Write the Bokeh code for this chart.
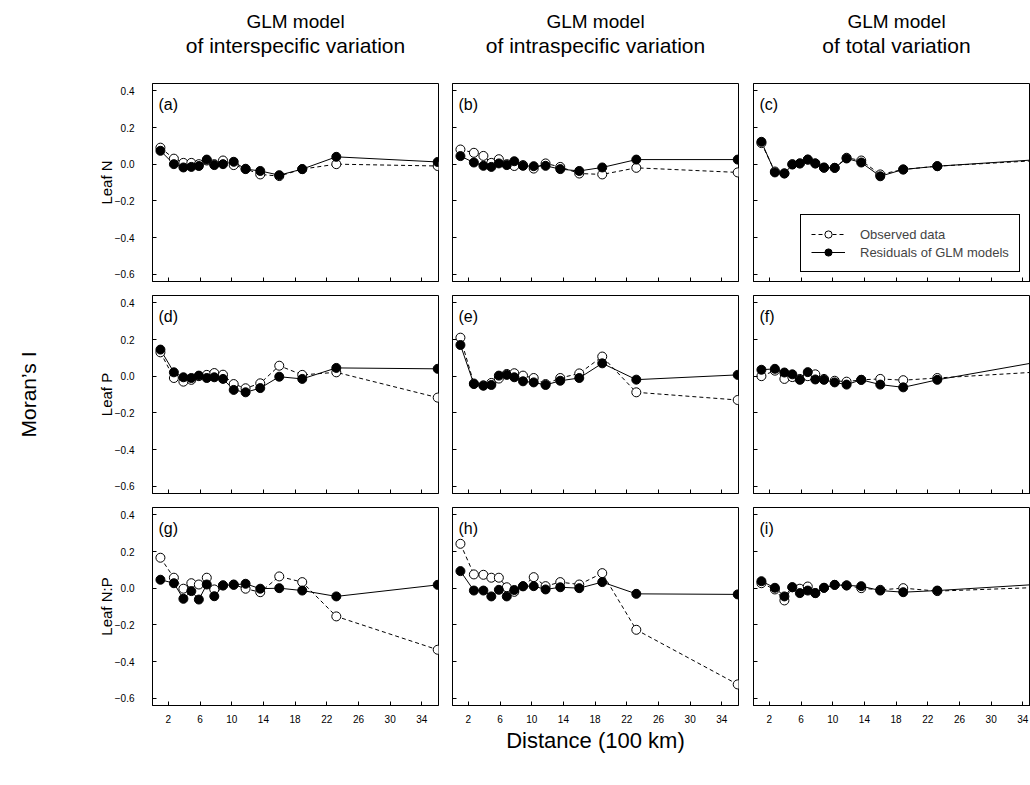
import math
from bokeh.plotting import figure
from bokeh.layouts import row, column
from bokeh.models import Range1d, FixedTicker, Label, Legend, LegendItem, LinearAxis
from bokeh.core.properties import value
from bokeh.embed import file_html
from bokeh.resources import INLINE

# ---------------- data ----------------
distance_100km = [1.0, 2.7, 3.9, 4.9, 5.85, 6.85, 7.8, 8.9, 10.25, 11.75, 13.6, 16.0, 18.9, 23.2, 36.0]

# Leaf N
a_observed = [0.09, 0.03, 0.007, 0.007, 0.0, 0.02, 0.0, 0.02, -0.005, -0.025, -0.056, -0.065, -0.027, 0.0, -0.01]
a_residual = [0.073, 0.0, -0.018, -0.015, -0.01, 0.025, -0.005, 0.0, 0.013, -0.027, -0.037, -0.06, -0.027, 0.04, 0.012]
b_observed = [0.08, 0.062, 0.045, 0.007, 0.027, 0.0, -0.01, -0.005, -0.024, 0.004, -0.015, -0.051, -0.056, -0.02, -0.045]
b_residual = [0.044, 0.009, -0.009, -0.015, 0.004, -0.005, 0.016, -0.009, -0.011, -0.009, -0.027, -0.037, -0.018, 0.025, 0.025]
c_observed = [0.115, -0.04, -0.05, 0.0, 0.004, 0.025, 0.004, -0.02, -0.02, 0.035, 0.02, -0.056, -0.029, -0.011, 0.02]
c_residual = [0.122, -0.045, -0.051, -0.002, 0.004, 0.025, 0.004, -0.018, -0.02, 0.031, 0.009, -0.066, -0.029, -0.011, 0.025]
# Leaf P
d_observed = [0.13, -0.01, -0.03, -0.02, 0.0, 0.007, 0.017, 0.008, -0.043, -0.066, -0.039, 0.057, 0.007, 0.021, -0.117]
d_residual = [0.145, 0.021, -0.006, -0.01, 0.003, -0.01, -0.006, -0.015, -0.075, -0.088, -0.065, -0.003, -0.015, 0.045, 0.04]
e_observed = [0.21, -0.04, -0.05, -0.037, -0.013, 0.012, 0.016, 0.003, -0.01, -0.043, -0.01, 0.015, 0.107, -0.088, -0.13]
e_residual = [0.17, -0.043, -0.052, -0.048, 0.003, 0.007, -0.006, -0.028, -0.034, -0.048, -0.025, -0.01, 0.07, -0.019, 0.007]
f_observed = [0.0, 0.03, -0.015, -0.005, -0.015, 0.0, 0.01, -0.015, -0.025, -0.03, -0.02, -0.015, -0.022, -0.01, 0.023]
f_residual = [0.035, 0.04, 0.02, 0.01, -0.02, 0.022, -0.018, -0.02, -0.034, -0.046, -0.02, -0.046, -0.061, -0.02, 0.078]
# Leaf N:P
g_observed = [0.166, 0.057, -0.003, 0.027, 0.02, 0.057, -0.007, 0.015, 0.02, -0.003, -0.022, 0.064, 0.033, -0.154, -0.336]
g_residual = [0.046, 0.027, -0.058, -0.016, -0.062, 0.02, -0.044, 0.015, 0.018, 0.024, -0.003, 0.0, -0.013, -0.045, 0.018]
h_observed = [0.242, 0.075, 0.073, 0.057, 0.057, 0.005, -0.02, 0.01, 0.06, 0.011, 0.033, 0.02, 0.082, -0.227, -0.525]
h_residual = [0.093, -0.013, -0.013, -0.045, -0.009, -0.045, -0.01, 0.011, 0.011, -0.007, 0.005, 0.0, 0.033, -0.031, -0.034]
i_observed = [0.027, -0.007, -0.067, 0.005, -0.003, 0.009, -0.027, 0.002, 0.018, 0.015, 0.0, -0.009, 0.0, -0.016, 0.004]
i_residual = [0.038, 0.002, -0.045, 0.005, -0.027, -0.013, -0.027, 0.002, 0.018, 0.015, 0.011, -0.013, -0.022, -0.013, 0.021]

column_title_line1 = ["GLM model", "GLM model", "GLM model"]
column_title_line2 = ["of interspecific variation", "of intraspecific variation", "of total variation"]
row_labels = ["Leaf N", "Leaf P", "Leaf N:P"]
panel_letters = [["(a)", "(b)", "(c)"], ["(d)", "(e)", "(f)"], ["(g)", "(h)", "(i)"]]
observed_series = [[a_observed, b_observed, c_observed],
                   [d_observed, e_observed, f_observed],
                   [g_observed, h_observed, i_observed]]
residual_series = [[a_residual, b_residual, c_residual],
                   [d_residual, e_residual, f_residual],
                   [g_residual, h_residual, i_residual]]
x_ticks = [2, 6, 10, 14, 18, 22, 26, 30, 34]
x_tick_labels = ["2", "6", "10", "14", "18", "22", "26", "30", "34"]
y_ticks = [-0.6, -0.4, -0.2, 0.0, 0.2, 0.4]
y_tick_labels = ["\u22120.6", "\u22120.4", "\u22120.2", "0.0", "0.2", "0.4"]
legend_labels = ["Observed data", "Residuals of GLM models"]
x_axis_title = "Distance (100 km)"
y_axis_title = "Moran\u2019s I"

# ---------------- layout / style ----------------
FONT = "Liberation Sans"
FRAME_H = 198
HEADER_H = 80
col_frame_w = [286, 286, 277]
col_border_left = [152, 7, 8]
col_border_right = [7, 7, 0]
row_border_top = [3, 7, 7]
row_border_bottom = [7, 7, 70]
X_FULL = 36.1
px_per_unit = 286 / X_FULL
Y_RANGE = (-0.64, 0.44)
TOTAL_W = sum(col_border_left) + sum(col_frame_w) + sum(col_border_right)


def make_header():
    # header strip in pixel coordinates (y measured downward from the top of the page)
    h = figure(width=TOTAL_W, height=HEADER_H, x_range=Range1d(0, TOTAL_W),
               y_range=Range1d(HEADER_H, 0), output_backend="svg",
               toolbar_location=None, tools="", title=None,
               min_border_left=0, min_border_right=0, min_border_top=0, min_border_bottom=0)
    h.axis.visible = False
    h.xgrid.visible = False
    h.ygrid.visible = False
    h.outline_line_color = None
    h.border_fill_color = "white"
    centers = []
    acc = 0
    for c in range(3):
        centers.append(acc + col_border_left[c] + 143)
        acc += col_border_left[c] + col_frame_w[c] + col_border_right[c]
    h.text(x=centers, y=[21] * 3, text=column_title_line1, text_font=value(FONT),
           text_font_size="19px", text_align="center", text_baseline="alphabetic",
           text_color="black")
    h.text(x=centers, y=[45] * 3, text=column_title_line2, text_font=value(FONT),
           text_font_size="21px", text_align="center", text_baseline="alphabetic",
           text_color="black")
    return h


def make_panel(r, c):
    fw = col_frame_w[c]
    p = figure(width=col_border_left[c] + fw + col_border_right[c],
               height=row_border_top[r] + FRAME_H + row_border_bottom[r],
               x_range=Range1d(0, fw / px_per_unit), y_range=Range1d(*Y_RANGE),
               output_backend="svg", toolbar_location=None, tools="", title=None,
               min_border_left=col_border_left[c], min_border_right=col_border_right[c],
               min_border_top=row_border_top[r], min_border_bottom=row_border_bottom[r])
    p.xgrid.visible = False
    p.ygrid.visible = False
    p.outline_line_color = "black"
    p.outline_line_width = 1
    p.background_fill_color = "white"
    p.border_fill_color = "white"

    p.xaxis.ticker = FixedTicker(ticks=x_ticks)
    p.yaxis.ticker = FixedTicker(ticks=y_ticks)
    for ax in p.axis:
        ax.major_tick_in = 4
        ax.major_tick_out = 0
        ax.minor_tick_line_color = None
        ax.axis_line_color = "black"
        ax.major_tick_line_color = "black"
        ax.major_label_text_font = FONT
        ax.major_label_text_color = "black"
        ax.major_label_text_font_size = "10px"

    if c == 0:
        p.yaxis.major_label_overrides = {t: l for t, l in zip(y_ticks, y_tick_labels)}
        p.yaxis.major_label_standoff = 18
        p.yaxis.axis_label = row_labels[r]
        p.yaxis.axis_label_text_font = FONT
        p.yaxis.axis_label_text_font_size = "15px"
        p.yaxis.axis_label_text_font_style = "normal"
        p.yaxis.axis_label_text_color = "black"
        p.yaxis.axis_label_standoff = -3
    else:
        p.yaxis.major_label_overrides = {t: "" for t in y_ticks}
        p.yaxis.major_label_standoff = 0
    if r == 2:
        p.xaxis.major_label_overrides = {t: l for t, l in zip(x_ticks, x_tick_labels)}
        p.xaxis.major_label_standoff = 9
    else:
        p.xaxis.major_label_overrides = {t: "" for t in x_ticks}
        p.xaxis.major_label_standoff = 0

    if c == 0 and r == 1:
        outer = LinearAxis(ticker=FixedTicker(ticks=[]), axis_label=y_axis_title,
                           axis_line_color=None, major_tick_line_color=None,
                           minor_tick_line_color=None, major_tick_out=0, major_tick_in=0,
                           major_label_standoff=0, axis_label_standoff=55,
                           axis_label_text_font=FONT, axis_label_text_font_size="21px",
                           axis_label_text_font_style="normal", axis_label_text_color="black")
        p.add_layout(outer, "left")

    obs = observed_series[r][c]
    res = residual_series[r][c]
    obs_line = p.line(distance_100km, obs, line_color="black", line_width=1, line_dash="4 3")
    res_line = p.line(distance_100km, res, line_color="black", line_width=1)
    obs_pts = p.scatter(distance_100km, obs, marker="circle", size=9,
                        fill_color="white", line_color="black", line_width=1)
    res_pts = p.scatter(distance_100km, res, marker="circle", size=9,
                        fill_color="black", line_color="black", line_width=1)

    p.add_layout(Label(x=6, y=FRAME_H - 21, x_units="screen", y_units="screen",
                       text=panel_letters[r][c], text_font=FONT, text_font_size="16px",
                       text_align="left", text_baseline="alphabetic", text_color="black"))

    if r == 2 and c == 1:
        p.xaxis.axis_label = x_axis_title
        p.xaxis.axis_label_text_font = FONT
        p.xaxis.axis_label_text_font_size = "22px"
        p.xaxis.axis_label_text_font_style = "normal"
        p.xaxis.axis_label_text_color = "black"
        p.xaxis.axis_label_standoff = 2
    if r == 0 and c == 2:
        legend = Legend(items=[LegendItem(label=legend_labels[0], renderers=[obs_line, obs_pts]),
                               LegendItem(label=legend_labels[1], renderers=[res_line, res_pts])],
                        location=(47, 9), margin=0, padding=10, spacing=0,
                        glyph_width=34, glyph_height=18, label_height=18, label_standoff=15,
                        label_text_font=FONT, label_text_font_size="13px",
                        border_line_color="black", border_line_width=1, border_line_alpha=1,
                        background_fill_color="white", background_fill_alpha=1)
        p.add_layout(legend)
    return p


rows = [make_header()]
for r in range(3):
    rows.append(row(*[make_panel(r, c) for c in range(3)], spacing=0))
layout = column(*rows, spacing=0)

open("out.html", "w").write(file_html(layout, INLINE))
